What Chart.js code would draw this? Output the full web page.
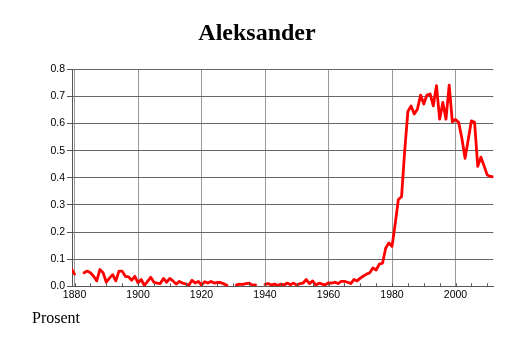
<!DOCTYPE html>
<html>
<head>
<meta charset="utf-8">
<title>Aleksander</title>
<script src="https://cdn.jsdelivr.net/npm/chart.js@4/dist/chart.umd.min.js"></script>
<style>
  body { margin: 0; background: #fff; }
  canvas { display: block; }
</style>
</head>
<body>
<canvas id="nameChart" width="514" height="343"></canvas>
<script>
// share of newborns given the name, per year (null = no data)
var firstYear = 1879;
var pct1879to1919 = [0.065, 0.045, null, null, 0.05, 0.056, 0.05, 0.037, 0.02, 0.062,
  0.05, 0.015, 0.03, 0.043, 0.02, 0.056, 0.056, 0.037, 0.035, 0.022,
  0.037, 0.013, 0.025, 0.003, 0.018, 0.033, 0.015, 0.012, 0.01, 0.029,
  0.015, 0.029, 0.02, 0.008, 0.018, 0.012, 0.009, 0.004, 0.022, 0.012, 0.018];
var pct1920to1959 = [0.005, 0.017, 0.012, 0.018, 0.012, 0.014, 0.014, 0.009, 0.004, null,
  null, 0.005, 0.008, 0.007, 0.01, 0.012, 0.004, 0.005, null, null,
  0.007, 0.01, 0.005, 0.008, 0.003, 0.008, 0.005, 0.012, 0.006, 0.012,
  0.004, 0.01, 0.012, 0.025, 0.01, 0.02, 0.004, 0.012, 0.008, 0.005];
var pct1960to1984 = [0.013, 0.012, 0.015, 0.01, 0.018, 0.018, 0.015, 0.01, 0.025, 0.02,
  0.03, 0.038, 0.045, 0.05, 0.068, 0.06, 0.082, 0.085, 0.14, 0.16,
  0.147, 0.23, 0.32, 0.33, 0.5];
var pct1985to2012 = [0.645, 0.665, 0.635, 0.653, 0.705, 0.672, 0.705, 0.709, 0.665, 0.74,
  0.616, 0.678, 0.616, 0.742, 0.606, 0.615, 0.604, 0.546, 0.472, 0.54,
  0.61, 0.605, 0.442, 0.476, 0.444, 0.41, 0.405, 0.403];

var yTicks = [0, 0.1, 0.2, 0.3, 0.4, 0.5, 0.6, 0.7, 0.8];
var labelledYears = [1880, 1900, 1920, 1940, 1960, 1980, 2000];

var allPct = pct1879to1919.concat(pct1920to1959, pct1960to1984, pct1985to2012);
var points = allPct.map(function (v, i) {
    return { x: firstYear + i, y: v };
});

// small inward ticks every 5 years + the "Prosent" caption
var extras = {
    id: 'extras',
    afterDraw: function (chart) {
        var ctx = chart.ctx;
        var xs = chart.scales.x;
        var bottom = chart.chartArea.bottom;
        ctx.save();
        ctx.strokeStyle = '#555';
        ctx.lineWidth = 1;
        xs.ticks.forEach(function (t) {
            var px = Math.round(xs.getPixelForValue(t.value)) + 0.5;
            ctx.beginPath();
            ctx.moveTo(px, bottom);
            ctx.lineTo(px, bottom - 3);
            ctx.stroke();
        });
        ctx.fillStyle = '#000';
        ctx.font = '16px "Liberation Serif", "Times New Roman", serif';
        ctx.textBaseline = 'alphabetic';
        ctx.textAlign = 'left';
        ctx.fillText('Prosent', 32, 323);
        ctx.restore();
    }
};

var tickFont = { family: '"Liberation Sans", Arial, sans-serif', size: 10.5 };

new Chart(document.getElementById('nameChart'), {
    type: 'line',
    data: {
        datasets: [{
            label: 'Aleksander',
            data: points,
            borderColor: '#ff0000',
            borderWidth: 2.8,
            pointRadius: 0,
            tension: 0,
            spanGaps: false,
            borderCapStyle: 'round',
            borderJoinStyle: 'round'
        }]
    },
    options: {
        responsive: false,
        animation: false,
        layout: { padding: { left: 20.7, right: 20.7, top: 0, bottom: 36.7 } },
        plugins: {
            legend: { display: false },
            tooltip: { enabled: false },
            title: {
                display: true,
                text: 'Aleksander',
                color: '#000',
                font: { family: '"Liberation Serif", "Times New Roman", serif', size: 24, weight: 'bold' },
                padding: { top: 19.1, bottom: 21.4 }
            }
        },
        scales: {
            x: {
                type: 'linear',
                min: 1879.2,
                max: 2011.9,
                afterFit: function (scale) { scale.height = 20; },
                border: { display: true, color: '#555', width: 1 },
                grid: {
                    drawTicks: false,
                    color: function (c) {
                        return labelledYears.indexOf(c.tick.value) >= 0 ? '#999' : 'rgba(0,0,0,0)';
                    }
                },
                ticks: {
                    stepSize: 5,
                    includeBounds: false,
                    autoSkip: false,
                    maxRotation: 0,
                    padding: 3,
                    color: '#000',
                    font: tickFont,
                    callback: function (v) {
                        return labelledYears.indexOf(v) >= 0 ? String(v) : '';
                    }
                }
            },
            y: {
                min: yTicks[0],
                max: yTicks[yTicks.length - 1],
                afterFit: function (scale) { scale.width = 51.3; },
                border: { display: true, color: '#555', width: 1 },
                grid: { color: '#666', tickLength: 5, tickColor: '#555' },
                afterBuildTicks: function (scale) {
                    scale.ticks = yTicks.map(function (v) { return { value: v }; });
                },
                ticks: {
                    padding: 2,
                    color: '#000',
                    font: tickFont,
                    callback: function (v) { return v.toFixed(1); }
                }
            }
        }
    },
    plugins: [extras]
});
</script>
</body>
</html>
